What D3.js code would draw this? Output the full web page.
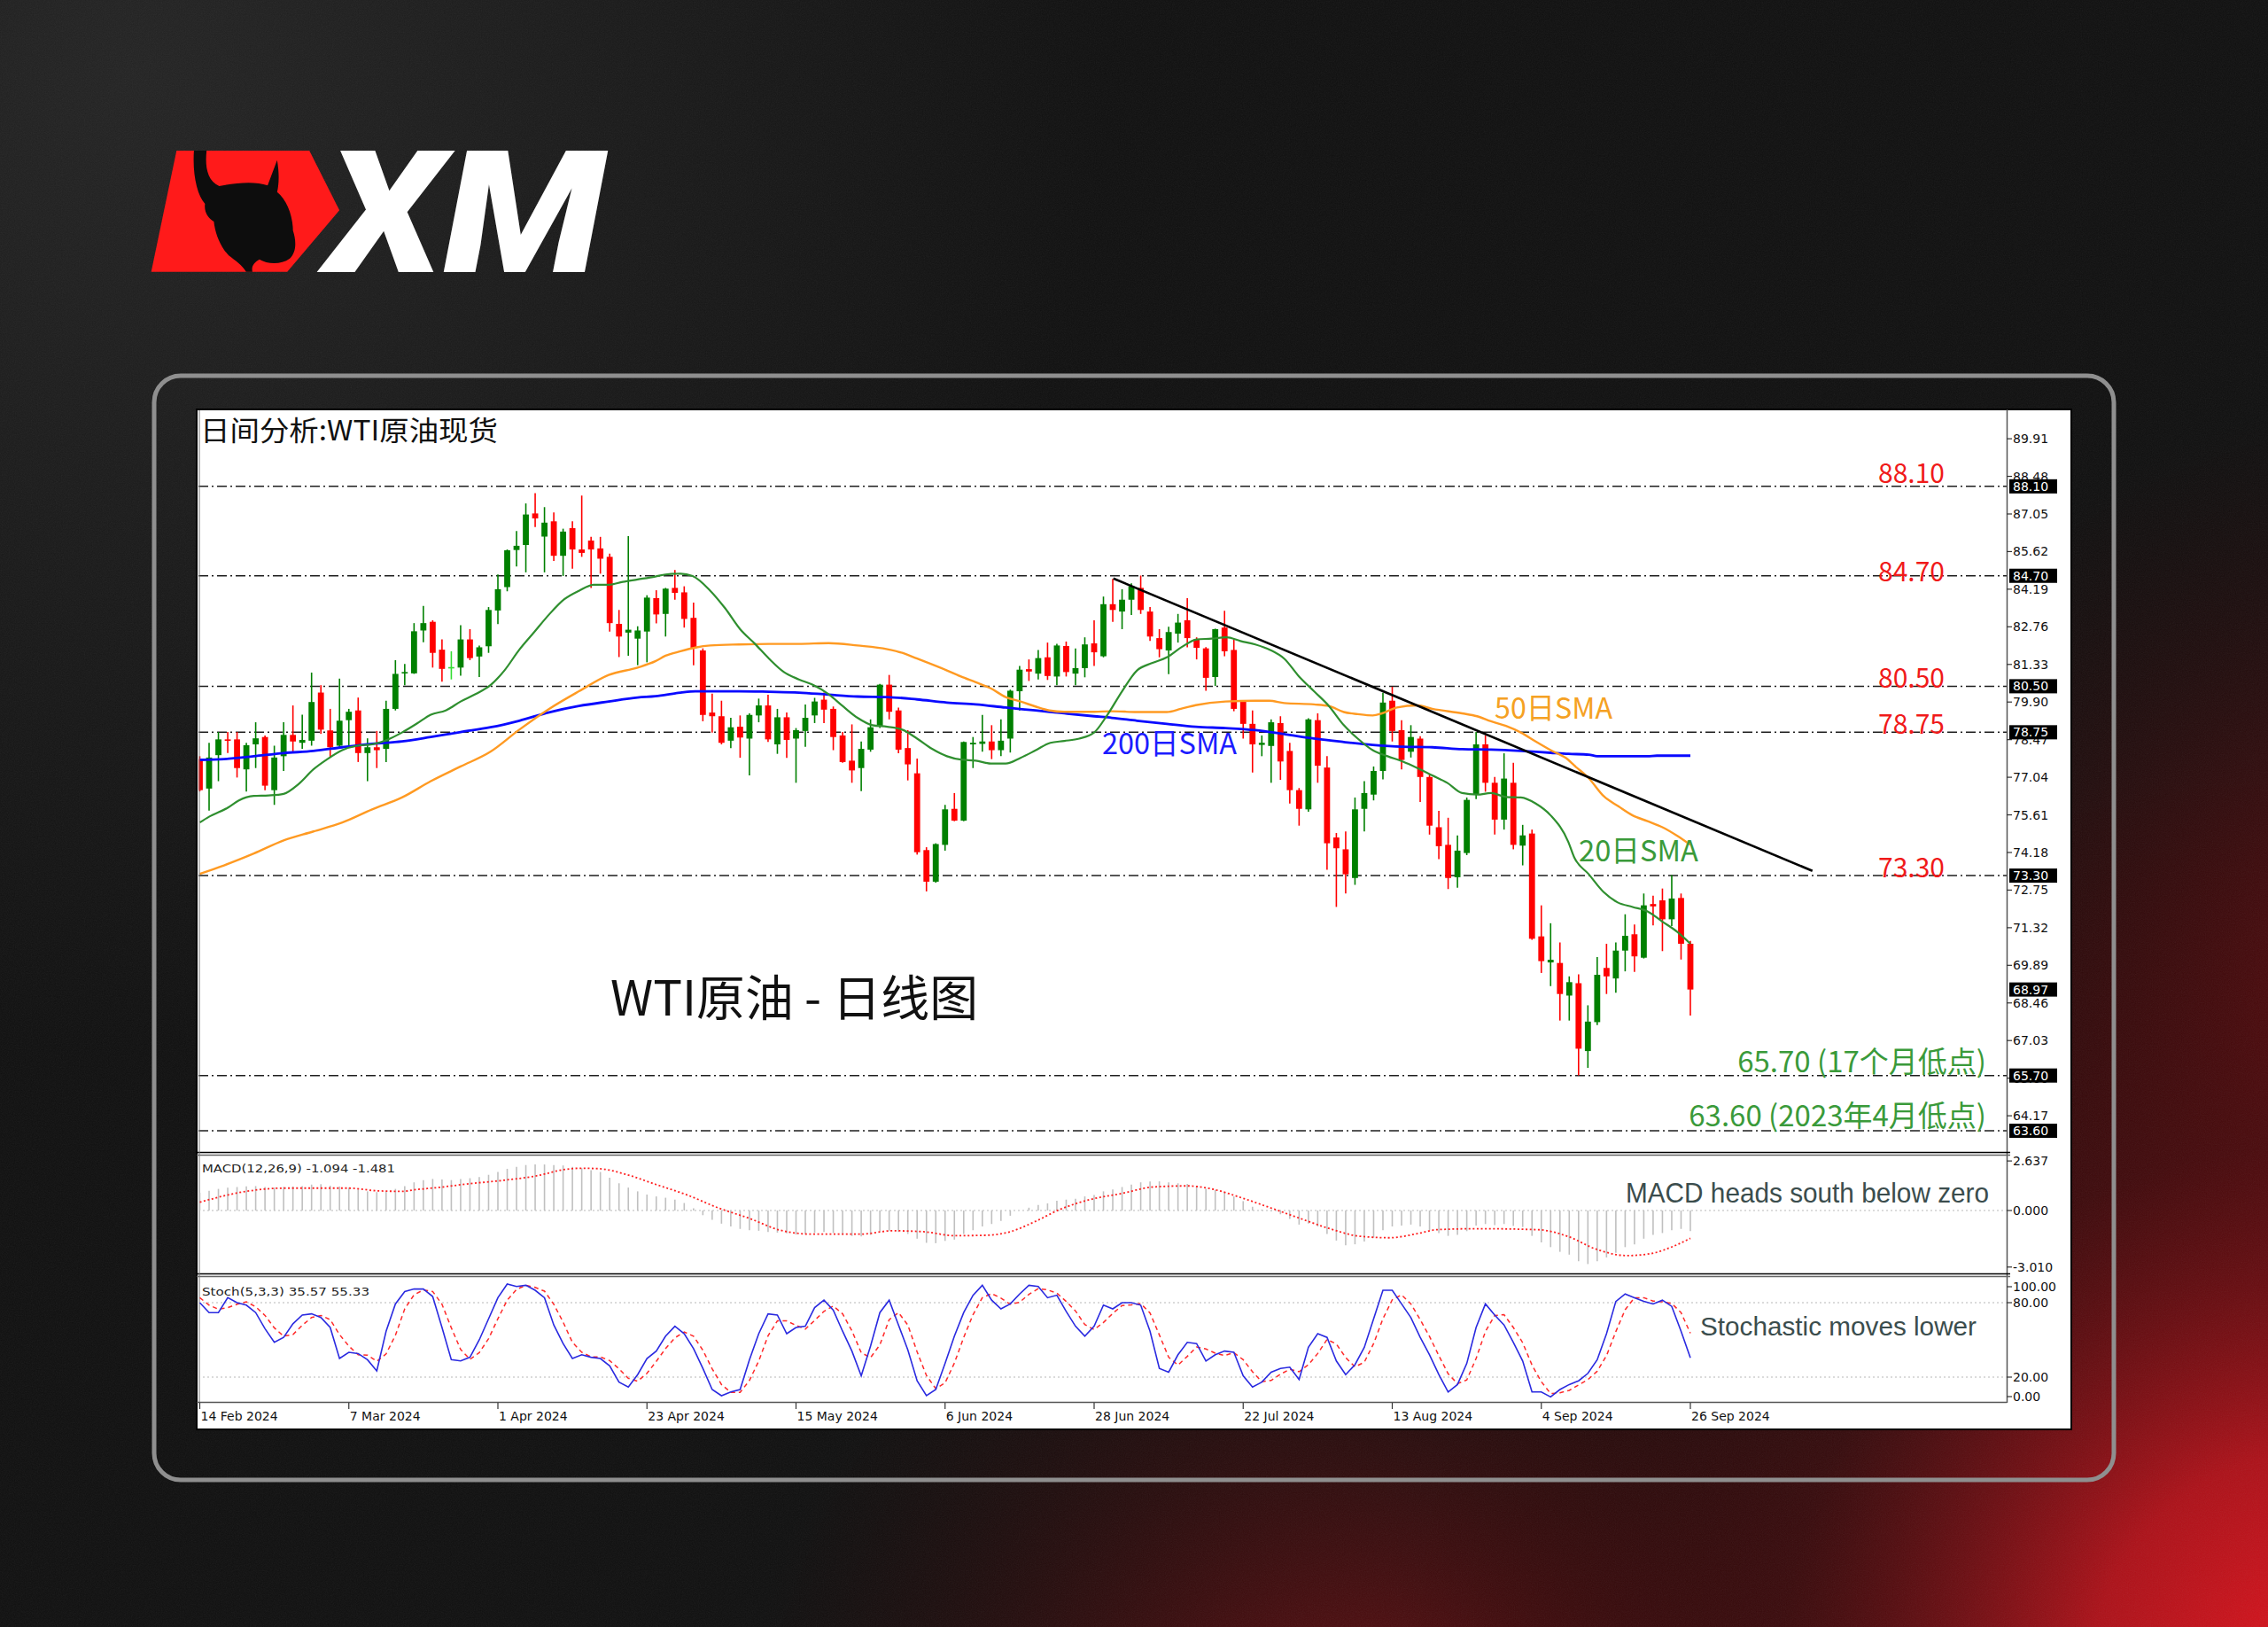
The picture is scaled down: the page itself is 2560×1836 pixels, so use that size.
<!DOCTYPE html>
<html><head><meta charset="utf-8">
<script src="https://d3js.org/d3.v7.min.js"></script>
<style>html,body{margin:0;padding:0;background:#141414;}svg{display:block;}</style>
</head><body>
<svg id="chart" width="2560" height="1836"></svg>
<script>
// ---------------- DATA ----------------
const xTickLabels = ["14 Feb 2024","7 Mar 2024","1 Apr 2024","23 Apr 2024","15 May 2024","6 Jun 2024","28 Jun 2024","22 Jul 2024","13 Aug 2024","4 Sep 2024","26 Sep 2024"];
const xTickIndex = [0,16,32,48,64,80,96,112,128,144,160];

const opens = [77.73,76.61,77.88,78.48,78.48,77.34,78.29,78.57,76.55,77.84, 78.65,78.35,78.43,80.26,78.82,78.24,79.21,79.58,77.96,78.18, 78.12,79.64,80.99,80.99,82.62,82.95,81.89,81.23,81.21,82.28, 81.63,82.02,83.38,84.27,85.68,85.87,87.07,86.19,86.77,85.46, 86.51,85.70,86.04,85.74,85.42,82.87,82.54,82.31,82.58,83.85, 83.25,84.24,84.07,83.10,81.86,79.50,79.36,78.43,78.96,78.51, 79.39,79.77,78.29,79.32,78.51,78.80,79.39,79.99,79.64,78.63, 77.67,77.39,78.09,78.99,80.56,79.58,78.15,77.19,74.27,73.07, 74.47,75.84,75.39,78.29,78.31,78.40,78.07,78.51,80.31,81.15, 80.98,81.60,80.87,82.03,80.98,81.19,82.13,81.64,83.62,83.34, 83.79,84.24,83.34,82.33,81.86,82.50,83.01,82.28,81.94,80.85, 82.73,81.88,79.95,79.07,78.27,78.23,79.10,78.04,76.55,75.82, 79.21,77.41,74.75,74.30,73.21,75.84,76.38,77.28,79.95,78.83, 78.01,78.51,77.05,75.14,74.47,73.24,74.16,76.38,78.29,76.83, 75.43,76.83,74.44,74.90,70.99,70.00,69.98,68.74,69.21,66.63, 67.73,69.79,69.39,70.45,71.07,70.18,72.22,72.36,71.64,72.45, 70.71];
const highs = [77.84,78.35,78.76,78.76,78.76,78.35,79.13,78.63,78.24,79.13, 79.77,79.42,81.02,80.54,79.64,80.79,79.64,80.07,78.52,78.80, 79.95,81.49,81.35,82.90,83.55,83.01,82.28,81.83,82.82,82.67, 82.05,83.51,84.75,85.70,86.40,87.45,87.84,87.31,87.11,86.49, 86.77,87.75,86.18,86.18,85.54,83.40,86.21,82.78,83.96,84.15, 84.24,84.92,84.30,83.68,81.94,80.22,79.95,79.30,79.39,79.47, 80.03,80.18,79.64,79.50,78.91,79.81,80.06,80.26,79.73,78.76, 79.05,78.40,79.24,80.59,80.93,79.69,78.83,77.75,74.38,74.53, 75.99,76.44,78.40,78.57,79.41,79.02,79.24,80.37,81.27,81.52, 81.88,82.16,82.11,82.20,81.94,82.36,83.01,83.91,84.58,84.19, 84.41,84.71,83.51,82.67,82.76,83.25,83.85,82.36,81.99,82.69, 83.37,82.28,79.97,79.58,78.63,79.24,79.36,78.35,76.63,79.28, 79.47,77.84,74.92,74.98,76.27,76.89,77.45,80.25,80.48,79.21, 79.02,78.60,77.17,75.76,75.50,74.83,76.27,78.76,78.63,77.05, 77.95,77.59,75.23,75.05,72.17,71.49,70.76,69.47,69.55,68.37, 70.20,70.71,70.76,71.83,71.44,72.62,72.54,72.81,73.32,72.62, 70.82];
const lows = [76.50,75.77,76.89,77.96,77.03,76.50,77.39,76.55,75.99,77.28, 78.01,78.12,78.24,78.69,77.79,78.18,78.24,77.62,76.89,77.39, 77.62,79.58,80.54,80.97,82.17,81.21,80.67,80.76,80.90,81.49, 80.85,81.77,82.86,84.11,85.05,84.83,86.55,84.83,85.26,84.69, 84.97,85.42,84.24,84.78,82.58,81.61,81.66,81.30,81.41,82.89, 82.39,83.79,82.73,81.30,79.17,78.74,78.29,78.15,77.78,77.11, 79.13,78.38,77.93,77.78,76.83,78.20,79.10,79.10,78.07,77.59, 76.83,76.51,78.01,78.91,79.24,77.95,76.92,74.10,72.70,73.03, 74.25,75.37,75.37,77.39,78.01,77.73,77.84,77.98,79.58,80.70, 80.76,80.74,80.54,80.87,80.54,80.84,81.27,81.60,82.95,82.67, 83.21,83.25,82.22,81.60,80.96,82.16,81.98,81.52,80.33,80.51, 81.64,79.55,78.51,77.22,77.84,76.83,76.94,76.04,75.20,75.73, 76.83,73.52,72.11,72.62,72.95,74.98,76.16,76.96,78.40,77.34, 77.79,76.10,74.86,73.93,72.79,72.84,74.08,76.21,76.49,74.86, 75.05,74.30,73.69,70.86,69.60,69.10,67.79,67.79,65.71,65.99, 67.62,68.80,68.85,69.66,69.64,70.15,71.41,70.43,71.38,70.11, 67.98];
const closes = [76.55,77.79,78.48,78.45,77.39,78.26,78.52,76.72,77.79,78.65, 78.40,78.46,79.90,78.85,78.18,79.19,79.53,77.96,78.18,78.07, 79.64,80.97,81.04,82.59,82.90,81.77,81.16,81.23,82.28,81.57, 81.98,83.40,84.19,85.67,85.84,87.03,86.88,86.72,85.46,86.38, 85.70,85.57,85.70,85.35,82.90,82.39,82.65,82.62,83.87,83.23, 84.21,84.05,83.06,81.94,79.41,79.36,78.35,78.94,78.55,79.41, 79.77,78.48,79.32,78.46,78.83,79.30,79.92,79.61,78.57,77.62, 77.30,78.12,78.94,80.56,79.53,78.09,77.53,74.19,73.07,74.50, 75.82,75.39,78.38,78.35,78.40,78.07,78.43,80.33,81.13,81.06, 81.57,80.89,82.05,81.04,81.19,82.09,81.79,83.62,83.40,83.79, 84.30,83.40,82.39,81.91,82.56,82.92,82.33,81.96,80.82,82.67, 81.83,79.64,79.07,78.29,78.35,79.13,77.64,76.55,75.84,79.24, 77.48,74.53,74.34,73.35,75.82,76.44,77.28,79.88,78.80,77.70, 78.57,77.05,75.20,74.42,73.21,74.25,76.18,78.29,76.83,75.43, 76.99,74.47,74.83,70.90,70.05,70.10,68.80,69.25,66.72,67.75, 69.53,69.47,70.45,71.01,70.23,72.17,72.13,71.64,72.43,70.71, 68.97];

// moving averages: [bar index, value]
const sma20 = [[0,75.32],[1,75.54],[3,75.88],[4.2,76.16],[5.8,76.33],[7.4,76.35],[9,76.41],[10.6,76.78],[12.2,77.34],[13.7,77.73],[15.3,78.07],[16.9,78.24],[18.5,78.29],[20.1,78.46],[21.7,78.74],[23.3,79.08],[24.8,79.42],[26.4,79.58],[28,79.92],[29.6,80.20],[31.2,80.54],[32.7,81.10],[34.3,81.89],[35.9,82.56],[37.5,83.23],[39.1,83.80],[40.7,84.13],[42.3,84.36],[43.9,84.36],[45.4,84.47],[47,84.56],[48.9,84.67],[50,84.75],[51.6,84.78],[52.9,84.69],[54.8,84.13],[56.4,83.46],[58,82.67],[59.6,82.11],[61.1,81.55],[62.7,81.04],[64.3,80.76],[65.9,80.54],[67.5,80.20],[69,79.75],[70.6,79.30],[72.2,79.02],[73.8,78.96],[75.4,78.85],[77,78.51],[78.6,78.12],[80.2,77.84],[81.7,77.71],[83.3,77.67],[84.9,77.56],[86.5,77.56],[88.1,77.78],[89.7,78.06],[91.3,78.35],[92.8,78.42],[94.4,78.51],[96,78.74],[97.4,79.40],[99,80.31],[100.6,81.10],[102.2,81.38],[103.8,81.60],[105.4,81.99],[107,82.28],[108.6,82.31],[110.2,82.36],[111.7,82.22],[113.3,82.09],[114.9,81.88],[116.4,81.55],[118,80.87],[119.6,80.31],[121.2,79.75],[122.8,79.02],[124.3,78.51],[125.9,78.07],[127.5,77.84],[129.1,77.64],[130.7,77.39],[132.3,77.11],[133.9,76.83],[135.5,76.44],[137.1,76.38],[138.6,76.44],[140.2,76.29],[141.8,76.27],[143.4,76.04],[145,75.59],[146.9,74.58],[147.5,74.02],[149.1,73.35],[150.7,72.67],[152.2,72.28],[153.8,72.11],[155.4,71.94],[157,71.55],[158.6,71.16],[160,70.71]];
const sma50 = [[0,73.37],[2.6,73.69],[5.8,74.14],[9,74.64],[12.2,74.98],[15.3,75.32],[18.5,75.82],[21.7,76.27],[24.8,76.89],[28,77.45],[31.2,78.01],[34.3,78.85],[37.5,79.64],[40.7,80.31],[43.9,80.93],[47,81.21],[48.9,81.45],[50,81.66],[51.6,81.83],[53.2,81.97],[54.8,82.05],[57.9,82.09],[61.1,82.11],[64.3,82.11],[67.5,82.14],[70.6,82.05],[73.8,81.91],[75.4,81.77],[77,81.55],[80.2,81.10],[81.7,80.87],[83.3,80.65],[84.9,80.42],[86.5,80.09],[88.1,79.92],[89.7,79.73],[91.2,79.58],[92.8,79.53],[96,79.53],[97.9,79.55],[100.6,79.52],[103.8,79.52],[105.3,79.64],[106.9,79.78],[110.1,79.92],[113.3,79.95],[114.8,79.95],[116.4,79.86],[119.6,79.81],[121.2,79.75],[122.8,79.52],[124.3,79.44],[125.9,79.39],[126.9,79.47],[128.5,79.69],[130.7,79.77],[132.3,79.64],[135.5,79.47],[137.1,79.36],[138.6,79.17],[140.2,78.99],[141.8,78.74],[143.4,78.40],[145,78.07],[146.9,77.70],[147.5,77.50],[149.1,77.00],[150.7,76.32],[152.3,75.93],[153.8,75.59],[155.4,75.37],[157,75.14],[158.6,74.81],[160,74.47]];
const sma200 = [[0,77.70],[2.6,77.73],[5.8,77.84],[9,77.96],[12.2,78.04],[15.3,78.18],[18.5,78.31],[21.7,78.40],[24.8,78.57],[28,78.76],[31.2,78.94],[34.3,79.19],[37.5,79.51],[40.7,79.75],[43.9,79.92],[47,80.07],[48.9,80.12],[51.6,80.26],[53.2,80.31],[57.9,80.31],[61.1,80.29],[64.3,80.26],[67.5,80.18],[70.6,80.11],[73.8,80.09],[77,80.00],[80.2,79.88],[83.3,79.81],[86.5,79.69],[89.7,79.58],[92.8,79.47],[96,79.36],[97.9,79.30],[100.6,79.19],[103.8,79.07],[106.9,78.96],[110.1,78.91],[113.3,78.83],[116.4,78.68],[119.6,78.51],[122.8,78.38],[125.9,78.27],[129.1,78.20],[132.3,78.18],[135.5,78.11],[138.6,78.09],[141.8,78.04],[145,77.97],[146.9,77.93],[149.1,77.90],[150,77.84],[155.4,77.84],[156.4,77.86],[160,77.86]];
const trendLine = [[98.06,84.60],[173.1,73.48]];

const levelValues = [88.10, 84.70, 80.50, 78.75, 73.30, 65.70, 63.60];
const levelTexts = ["88.10","84.70","80.50","78.75","73.30","65.70 (17个月低点)","63.60 (2023年4月低点)"];
const lastPrice = 68.97;
const priceTicks = [89.91,88.48,87.05,85.62,84.19,82.76,81.33,79.90,78.47,77.04,75.61,74.18,72.75,71.32,69.89,68.46,67.03,65.60,64.17];

const macdMain = [0.95,1.05,1.15,1.22,1.25,1.28,1.30,1.25,1.22,1.25, 1.28,1.30,1.38,1.40,1.32,1.28,1.22,1.12,1.02,0.98, 1.02,1.15,1.30,1.50,1.62,1.68,1.65,1.62,1.68,1.72, 1.78,1.90,2.05,2.22,2.32,2.42,2.45,2.45,2.42,2.40, 2.32,2.25,2.15,2.05,1.75,1.45,1.22,1.02,0.85,0.75, 0.68,0.58,0.40,0.12,-0.25,-0.50,-0.70,-0.85,-0.98,-1.05, -1.08,-1.15,-1.18,-1.22,-1.28,-1.25,-1.18,-1.15,-1.20,-1.30, -1.36,-1.38,-1.30,-1.12,-1.08,-1.15,-1.25,-1.50,-1.72,-1.74, -1.62,-1.55,-1.25,-1.05,-0.85,-0.72,-0.55,-0.28,0.00,0.15, 0.30,0.38,0.52,0.58,0.62,0.75,0.82,1.02,1.12,1.25, 1.38,1.50,1.55,1.55,1.50,1.45,1.42,1.30,1.15,1.10, 1.00,0.75,0.50,0.20,0.05,-0.05,-0.20,-0.45,-0.75,-0.70, -0.85,-1.25,-1.60,-1.85,-1.80,-1.65,-1.45,-1.05,-0.85,-0.80, -0.75,-0.85,-1.05,-1.20,-1.35,-1.30,-1.10,-0.80,-0.72,-0.78, -0.72,-0.82,-0.88,-1.35,-1.70,-1.95,-2.20,-2.35,-2.70,-2.85, -2.70,-2.50,-2.25,-1.95,-1.80,-1.50,-1.30,-1.20,-1.05,-0.98, -1.094];
const macdSignal = [[0,0.44],[5,1.02],[9,1.19],[16,1.19],[19,1.05],[21.7,1.02],[23,1.10],[25.7,1.23],[29,1.43],[32.3,1.59],[36.3,1.86],[39,2.17],[41,2.25],[43,2.22],[45.7,1.93],[49,1.38],[52.3,0.83],[55.7,0.13],[59,-0.42],[62.3,-1.05],[65.7,-1.26],[71,-1.26],[74.3,-1.08],[77.7,-1.13],[81,-1.34],[84.3,-1.32],[87,-1.13],[89.7,-0.58],[92.3,0.05],[95.7,0.60],[99,0.91],[102.3,1.25],[106,1.31],[108.6,1.15],[111.8,0.68],[115,0.13],[118.1,-0.42],[121.3,-0.97],[124.5,-1.37],[127.7,-1.45],[130.9,-1.21],[132.8,-1.02],[137.2,-0.97],[143.6,-1.02],[146.8,-1.37],[150,-2.08],[153.2,-2.40],[155.7,-2.30],[158.2,-1.90],[160,-1.481]];
const macdTicks = [2.637, 0.000, -3.010];

const stochK = [80,72,72,84,80,78,72,59,48,52, 63,70,71,68,60,35,40,39,34,25, 57,79,89,91,91,85,60,34,33,36, 50,67,84,95,93,94,90,84,62,47, 35,38,36,35,29,16,12,22,35,41, 53,61,55,43,27,10,5,8,10,34, 55,71,70,55,60,61,76,82,74,57, 41,21,45,72,82,62,42,17,5,10, 31,53,72,86,94,82,75,79,87,94, 93,84,86,73,61,53,61,78,75,80, 80,78,57,27,24,38,48,47,33,38, 41,40,21,12,16,24,27,28,18,44, 55,52,33,22,30,44,67,90,90,79, 68,52,38,22,8,14,31,60,79,70, 62,48,33,8,8,4,10,14,17,23, 34,55,81,87,84,81,79,82,77,57, 35.57];
const stochD = [84,78,74.7,76,78.7,80.7,76.7,69.7,59.7,53, 54.3,61.7,68,69.7,66.3,54.3,45,38,37.7,32.7, 38.7,53.7,75,86.3,90.3,89,78.7,59.7,42.3,34.3, 39.7,51,67,82,90.7,94,92.3,89.3,78.7,64.3, 48,40,36.3,36.3,33.3,26.7,19,16.7,23,32.7, 43,51.7,56.3,53,41.7,26.7,14,7.7,7.7,17.3, 33,53.3,65.3,65.3,61.7,58.7,65.7,73,77.3,71, 57.3,39.7,35.7,46,66.3,72,62,40.3,21.3,10.7, 15.3,31.3,52,70.3,84,87.3,83.7,78.7,80.3,86.7, 91.3,90.3,87.7,81,73.3,62.3,58.3,64,71.3,77.7, 78.3,79.3,71.7,54,36,29.7,36.7,44.3,42.7,39.3, 37.3,39.7,34,24.3,16.3,17.3,22.3,26.3,24.3,30, 39,50.3,46.7,35.7,28.3,32,47,67,82.3,86.3, 79,66.3,52.7,37.3,22.7,14.7,17.7,35,56.7,69.7, 70.3,60,47.7,29.7,16.3,6.7,7.3,9.3,13.7,18, 24.7,37.3,56.7,74.3,84,84,81.3,80.7,79.3,72, 55.33];
const stochTicks = [100, 80, 20, 0];
const stochTickText = ["100.00","80.00","20.00","0.00"];

// ---------------- DRAWING ----------------
const svg = d3.select("#chart");
const defs = svg.append("defs");
function radial(id, cx, cy, r, stops){
  const g = defs.append("radialGradient").attr("id",id).attr("gradientUnits","userSpaceOnUse")
    .attr("cx",cx).attr("cy",cy).attr("r",r);
  stops.forEach(s => g.append("stop").attr("offset",s[0]).attr("stop-color",s[1]).attr("stop-opacity",s[2]));
}
radial("gTL", 150, 80, 1100, [[0,"#2a2a2a",0.75],[1,"#2a2a2a",0]]);
radial("gBR", 2620, 1900, 1050, [[0,"#e3141e",1],[0.25,"#b4121a",0.95],[0.58,"#52090c",0.55],[1,"#300",0]]);
radial("gR", 2720, 1150, 700, [[0,"#8a0e14",0.75],[1,"#300",0]]);
radial("gB", 1550, 2020, 720, [[0,"#8a1015",0.8],[1,"#300",0]]);
const nf = defs.append("filter").attr("id","noise").attr("x",0).attr("y",0).attr("width","100%").attr("height","100%");
nf.append("feTurbulence").attr("type","fractalNoise").attr("baseFrequency",0.85).attr("numOctaves",2).attr("stitchTiles","stitch");
nf.append("feColorMatrix").attr("type","saturate").attr("values",0);

svg.append("rect").attr("width",2560).attr("height",1836).attr("fill","#101010");
svg.append("rect").attr("width",2560).attr("height",1836).attr("fill","url(#gTL)");
svg.append("rect").attr("width",2560).attr("height",1836).attr("fill","url(#gR)");
svg.append("rect").attr("width",2560).attr("height",1836).attr("fill","url(#gB)");
svg.append("rect").attr("width",2560).attr("height",1836).attr("fill","url(#gBR)");
svg.append("rect").attr("width",2560).attr("height",1836).attr("filter","url(#noise)").attr("opacity",0.07);

// Logo
const logo = svg.append("g").attr("transform","translate(160,150) scale(0.357,0.3333)");
logo.append("path").attr("d","M110,60 L530,60 L625,262 L460,470 L30,470 Z").attr("fill","#ff1a1a");
logo.append("path").attr("fill","#0d0d0d")
  .attr("d","M165,60 L205,60 C200,110 205,160 245,180 C300,168 360,163 398,178 L428,92 C436,140 433,180 428,200 C458,225 478,280 478,330 C490,370 488,405 468,425 C440,447 398,445 372,428 C358,436 345,450 350,470 L330,470 C318,448 295,432 275,415 C248,385 232,340 228,300 C212,290 196,270 200,240 C175,210 160,140 165,60 Z");
svg.append("text").attr("x",368).attr("y",307).attr("fill","#ffffff")
  .attr("font-family","Roboto, Inter, 'DejaVu Sans', sans-serif").attr("font-weight",900).attr("font-style","italic")
  .attr("font-size",192).attr("textLength",314).attr("lengthAdjust","spacingAndGlyphs").text("XM");

// Outer frame
svg.append("rect").attr("x",174).attr("y",424).attr("width",2212).attr("height",1246).attr("rx",30)
  .attr("fill","none").attr("stroke","#8f8f8f").attr("stroke-width",5);

// Chart window
svg.append("rect").attr("x",222).attr("y",462).attr("width",2116).attr("height",1151).attr("fill","#ffffff").attr("stroke","#000").attr("stroke-width",2);

const PL = 224, PR = 2265;
const x = d3.scaleLinear().domain([0, closes.length-1]).range([225.5, 1908]);
const y = d3.scaleLinear().domain([64.17, 89.91]).range([1259.1, 495.1]);
const yM = d3.scaleLinear().domain([-3.010, 2.637]).range([1429.8, 1310.1]);
const yS = d3.scaleLinear().domain([0, 100]).range([1582, 1442]);

function clip(id, x0, y0, w, h){ defs.append("clipPath").attr("id",id).append("rect").attr("x",x0).attr("y",y0).attr("width",w).attr("height",h); }
clip("cMain", PL, 463, PR-PL, 836);
clip("cMacd", PL, 1305, PR-PL, 131);
clip("cStoch", PL, 1442, PR-PL, 140);

const gMain = svg.append("g").attr("clip-path","url(#cMain)");

// level lines
gMain.selectAll("line.lvl").data(levelValues).join("line").attr("class","lvl")
  .attr("x1",PL).attr("x2",PR).attr("y1",d=>y(d)).attr("y2",d=>y(d))
  .attr("stroke","#1e1e1e").attr("stroke-width",1.5).attr("stroke-dasharray","11,4,2,4");

// candles
const idx = d3.range(closes.length);
const colorOf = i => closes[i] > opens[i] ? "#008000" : (closes[i] < opens[i] ? "#ff0000" : "#33dd33");
gMain.selectAll("line.wick").data(idx).join("line").attr("class","wick")
  .attr("x1",i=>x(i)).attr("x2",i=>x(i)).attr("y1",i=>y(highs[i])).attr("y2",i=>y(lows[i]))
  .attr("stroke",colorOf).attr("stroke-width",1.6);
gMain.selectAll("rect.body").data(idx).join("rect").attr("class","body")
  .attr("x",i=>x(i)-3.4).attr("width",6.8)
  .attr("y",i=>y(Math.max(opens[i],closes[i])))
  .attr("height",i=>Math.max(1.6, y(Math.min(opens[i],closes[i]))-y(Math.max(opens[i],closes[i]))))
  .attr("fill",colorOf);

// moving averages
const maLine = d3.line().x(d=>x(d[0])).y(d=>y(d[1])).curve(d3.curveMonotoneX);
gMain.append("path").attr("d",maLine(sma200)).attr("fill","none").attr("stroke","#0a0aff").attr("stroke-width",2.8);
gMain.append("path").attr("d",maLine(sma50)).attr("fill","none").attr("stroke","#ff9a22").attr("stroke-width",2.4);
gMain.append("path").attr("d",maLine(sma20)).attr("fill","none").attr("stroke","#2f8f2f").attr("stroke-width",2.2);
gMain.append("path").attr("d",d3.line().x(d=>x(d[0])).y(d=>y(d[1]))(trendLine)).attr("fill","none").attr("stroke","#000").attr("stroke-width",2.6);

// annotations in main panel
const cjk = "'Noto Sans CJK SC','Noto Sans',sans-serif";
svg.append("text").attr("x",226).attr("y",497).attr("font-family",cjk).attr("font-size",31).attr("fill","#111")
  .attr("textLength",336).attr("lengthAdjust","spacingAndGlyphs").text("日间分析:WTI原油现货");
svg.append("text").attr("x",689).attr("y",1146).attr("font-family",cjk).attr("font-size",55).attr("fill","#111")
  .attr("textLength",415).attr("lengthAdjust","spacingAndGlyphs").text("WTI原油 - 日线图");
svg.append("text").attr("x",1687).attr("y",811).attr("font-family",cjk).attr("font-size",33).attr("fill","#f5a123")
  .attr("textLength",133).attr("lengthAdjust","spacingAndGlyphs").text("50日SMA");
svg.append("text").attr("x",1244).attr("y",851).attr("font-family",cjk).attr("font-size",33).attr("fill","#1c1cff")
  .attr("textLength",152).attr("lengthAdjust","spacingAndGlyphs").text("200日SMA");
svg.append("text").attr("x",1782).attr("y",972).attr("font-family",cjk).attr("font-size",33).attr("fill","#3a9a3a")
  .attr("textLength",135).attr("lengthAdjust","spacingAndGlyphs").text("20日SMA");

const labelShift = [-6, 4, 0, 0, 0, -5, -6];
levelValues.forEach((v,k)=>{
  if (k < 5) {
    svg.append("text").attr("x",2195).attr("y",y(v)+2+labelShift[k]).attr("text-anchor","end").attr("font-family",cjk)
      .attr("font-size",30).attr("fill","#f01a1a").text(levelTexts[k]);
  } else {
    svg.append("text").attr("x",2242).attr("y",y(v)+1+labelShift[k]).attr("text-anchor","end").attr("font-family",cjk)
      .attr("font-size",33).attr("fill","#3a9a3a").text(levelTexts[k]);
  }
});

// price axis
const axisFont = "'DejaVu Sans', sans-serif";
svg.append("line").attr("x1",PR+0.5).attr("x2",PR+0.5).attr("y1",462).attr("y2",1583).attr("stroke","#555").attr("stroke-width",1.5);
const gAx = svg.append("g");
priceTicks.forEach(v=>{
  gAx.append("line").attr("x1",PR).attr("x2",PR+6).attr("y1",y(v)).attr("y2",y(v)).attr("stroke","#333").attr("stroke-width",1.2);
  gAx.append("text").attr("x",PR+7).attr("y",y(v)+5).attr("font-family",axisFont).attr("font-size",14).attr("fill","#111").text(v.toFixed(2));
});
levelValues.concat([lastPrice]).forEach(v=>{
  gAx.append("rect").attr("x",PR+3).attr("y",y(v)-8).attr("width",54).attr("height",16).attr("fill","#000");
  gAx.append("text").attr("x",PR+7).attr("y",y(v)+5).attr("font-family",axisFont).attr("font-size",14).attr("fill","#fff").text(v.toFixed(2));
});

// panel separators
[[1300.5,"#000"],[1303.5,"#666"],[1437.5,"#000"],[1440.5,"#666"]].forEach(s=>{
  svg.append("line").attr("x1",222).attr("x2",PR+4).attr("y1",s[0]).attr("y2",s[0]).attr("stroke",s[1]).attr("stroke-width",1.6);
});
svg.append("line").attr("x1",222).attr("x2",PR).attr("y1",1582.5).attr("y2",1582.5).attr("stroke","#555").attr("stroke-width",1.5);
svg.append("line").attr("x1",225).attr("x2",225).attr("y1",463).attr("y2",1582).attr("stroke","#777").attr("stroke-width",1);

// MACD panel
const gM = svg.append("g").attr("clip-path","url(#cMacd)");
gM.append("line").attr("x1",PL).attr("x2",PR).attr("y1",yM(0)).attr("y2",yM(0)).attr("stroke","#b8b8b8").attr("stroke-dasharray","2,3").attr("stroke-width",1.2);
gM.selectAll("line.h").data(idx).join("line").attr("class","h")
  .attr("x1",i=>x(i)).attr("x2",i=>x(i)).attr("y1",yM(0)).attr("y2",i=>yM(macdMain[i]))
  .attr("stroke","#c0c0c0").attr("stroke-width",1.6);
gM.append("path").attr("d",d3.line().x(d=>x(d[0])).y(d=>yM(d[1])).curve(d3.curveMonotoneX)(macdSignal))
  .attr("fill","none").attr("stroke","#ff2020").attr("stroke-width",1.8).attr("stroke-dasharray","2,2.6");
svg.append("text").attr("x",228).attr("y",1323).attr("font-family",axisFont).attr("font-size",13).attr("fill","#222")
  .attr("textLength",218).attr("lengthAdjust","spacingAndGlyphs").text("MACD(12,26,9) -1.094 -1.481");
svg.append("text").attr("x",1835).attr("y",1357).attr("font-family","'Liberation Sans', Arial, sans-serif").attr("font-size",32).attr("fill","#3b4d4d")
  .attr("textLength",410).attr("lengthAdjust","spacingAndGlyphs").text("MACD heads south below zero");
const macdTickY = [1310, 1366, 1430];
macdTicks.forEach((v,k)=>{
  svg.append("line").attr("x1",PR).attr("x2",PR+6).attr("y1",yM(v)).attr("y2",yM(v)).attr("stroke","#333").attr("stroke-width",1.2);
  svg.append("text").attr("x",PR+7).attr("y",macdTickY[k]+5).attr("font-family",axisFont).attr("font-size",14).attr("fill","#111").text(v.toFixed(3));
});

// Stochastic panel
const gS = svg.append("g").attr("clip-path","url(#cStoch)");
[80,20].forEach(v=> gS.append("line").attr("x1",PL).attr("x2",PR).attr("y1",yS(v)).attr("y2",yS(v)).attr("stroke","#b8b8b8").attr("stroke-dasharray","2,3").attr("stroke-width",1.2));
gS.append("path").attr("d",d3.line().x((d,i)=>x(i)).y(d=>yS(d))(stochD)).attr("fill","none").attr("stroke","#ff2a2a").attr("stroke-width",1.5).attr("stroke-dasharray","5,4");
gS.append("path").attr("d",d3.line().x((d,i)=>x(i)).y(d=>yS(d))(stochK)).attr("fill","none").attr("stroke","#2a2ae0").attr("stroke-width",1.6);
svg.append("text").attr("x",228).attr("y",1462).attr("font-family",axisFont).attr("font-size",13).attr("fill","#222")
  .attr("textLength",189).attr("lengthAdjust","spacingAndGlyphs").text("Stoch(5,3,3) 35.57 55.33");
svg.append("text").attr("x",1919).attr("y",1507).attr("font-family","'Liberation Sans', Arial, sans-serif").attr("font-size",30).attr("fill","#3b4d4d")
  .attr("textLength",312).attr("lengthAdjust","spacingAndGlyphs").text("Stochastic moves lower");
const stochLabelY = [1452, 1470, 1554, 1576];
stochTicks.forEach((v,k)=>{
  svg.append("line").attr("x1",PR).attr("x2",PR+6).attr("y1",stochLabelY[k]).attr("y2",stochLabelY[k]).attr("stroke","#333").attr("stroke-width",1.2);
  svg.append("text").attr("x",PR+7).attr("y",stochLabelY[k]+5).attr("font-family",axisFont).attr("font-size",14).attr("fill","#111").text(stochTickText[k]);
});

// time axis
xTickIndex.forEach((b,k)=>{
  svg.append("line").attr("x1",x(b)).attr("x2",x(b)).attr("y1",1583).attr("y2",1590).attr("stroke","#333").attr("stroke-width",1.2);
  svg.append("text").attr("x",x(b)+1).attr("y",1603).attr("font-family",axisFont).attr("font-size",14).attr("fill","#111").text(xTickLabels[k]);
});
</script>
</body></html>
